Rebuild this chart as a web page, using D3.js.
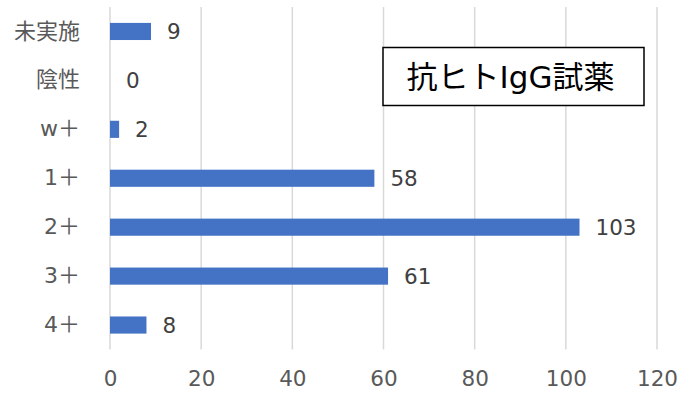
<!DOCTYPE html>
<html><head><meta charset="utf-8">
<script src="https://cdn.jsdelivr.net/npm/d3@7"></script>
<style>body{margin:0;background:#fff}svg{display:block}</style>
</head><body>
<script>
const categories = ["未実施","陰性","w＋","1＋","2＋","3＋","4＋"];
const values = [9,0,2,58,103,61,8];
const xTicks = [0,20,40,60,80,100,120];
const title = "抗ヒトIgG試薬";

const W=683,H=398;
const m={left:110,right:26,top:7,bottom:48.5};
const svg=d3.select("body").append("svg").attr("width",W).attr("height",H);
const font="'DejaVu Sans','Noto Sans CJK JP',sans-serif";
const x=d3.scaleLinear().domain([0,120]).range([m.left,W-m.right]);
const y=d3.scaleBand().domain(categories).range([m.top,H-m.bottom]).paddingInner(0.65).paddingOuter(0.325);

svg.append("g").selectAll("line").data(xTicks).join("line")
 .attr("x1",d=>x(d)).attr("x2",d=>x(d)).attr("y1",m.top).attr("y2",H-m.bottom)
 .attr("stroke","#d9d9d9").attr("stroke-width",1.5);

const xa=svg.append("g").attr("transform",`translate(0,${H-m.bottom})`)
 .call(d3.axisBottom(x).tickValues(xTicks).tickSize(0).tickPadding(21));
xa.select(".domain").remove();
xa.selectAll("text").attr("font-family",font).attr("font-size",21.5).attr("fill","#595959");

const ya=svg.append("g").attr("transform",`translate(${m.left},0)`)
 .call(d3.axisLeft(y).tickSize(0).tickPadding(30));
ya.select(".domain").remove();
ya.selectAll("text").attr("font-family",font).attr("font-size",22).attr("fill","#595959");

svg.append("g").selectAll("rect").data(values).join("rect")
 .attr("x",x(0)).attr("y",(d,i)=>y(categories[i]))
 .attr("width",d=>x(d)-x(0)).attr("height",y.bandwidth()).attr("fill","#4472c4");

svg.append("g").selectAll("text").data(values).join("text")
 .attr("x",d=>x(d)+16).attr("y",(d,i)=>y(categories[i])+y.bandwidth()/2)
 .attr("dy","0.36em").attr("font-family",font).attr("font-size",21.5).attr("fill","#404040")
 .text(d=>d);

const bx=383,by=47.5,bw=261,bh=58;
svg.append("rect").attr("x",bx).attr("y",by).attr("width",bw).attr("height",bh)
 .attr("fill","#fff").attr("stroke","#000").attr("stroke-width",1.5);
svg.append("text").attr("x",bx+bw/2-3).attr("y",by+bh/2).attr("dy","0.36em")
 .attr("text-anchor","middle").attr("font-family",font).attr("font-size",31).attr("fill","#000")
 .text(title);
</script>
</body></html>
